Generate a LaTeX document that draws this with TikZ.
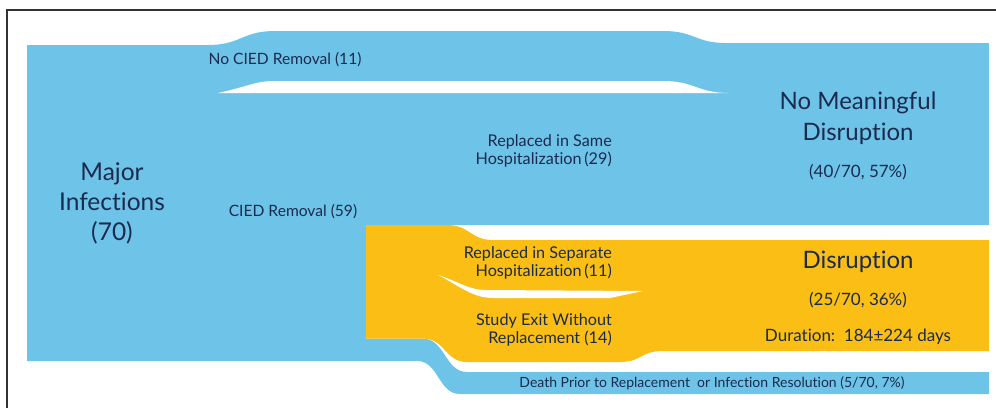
\documentclass[tikz,border=0pt]{standalone}
\usepackage{fontspec}
\setmainfont{Lato}[Ligatures=NoCommon]
\definecolor{fblue}{HTML}{6DC4E8}
\definecolor{forange}{HTML}{FBBE14}
\definecolor{ftext}{HTML}{1B2A4E}
\tikzset{
  lbl/.style={text=ftext, inner sep=0pt, align=center},
  small/.style={lbl, font=\fontsize{15.6}{18}\selectfont},
  smallr/.style={lbl, align=right, font=\fontsize{16.2}{17.5}\selectfont},
  big/.style={lbl, font=\fontsize{24.5}{30}\selectfont},
  mid/.style={lbl, font=\fontsize{17}{19}\selectfont},
}
\begin{document}
\begin{tikzpicture}[x=1pt,y=-1pt]
\useasboundingbox (0,0) rectangle (996,408);
% frame
\draw[line width=2pt, black!80] (7,408) -- (7,10) -- (996,10);
% blue flows
\fill[fblue] (27,45) -- (208,45) .. controls (241,45) and (242,31) .. (275,31)
  -- (663,31) .. controls (695,31) and (695,43) .. (726,43) -- (989,43) -- (989,225)
  -- (366,225) -- (366,338.6) -- (423,338.6) .. controls (445,338.6) and (445,372) .. (467,372)
  -- (989,372) -- (989,394) -- (460,394) .. controls (438,394) and (439,361) .. (417,361)
  -- (27,361) -- cycle;
% gap between No CIED and CIED removal
\fill[white] (218,93) .. controls (250,86) and (255,81) .. (275,81) -- (663,81)
  .. controls (695,81) and (697,93) .. (729,93) -- cycle;
% orange flows
\fill[forange] (366,225) -- (447,225) .. controls (470,225) and (470,240) .. (493,240)
  -- (989,240) -- (989,351) -- (663,351) .. controls (640,351) and (642,362) .. (620,362)
  -- (467,362) .. controls (445,362) and (445,338.6) .. (423,338.6) -- (366,338.6) -- cycle;
\fill[white] (438,275) .. controls (460,282) and (468,290) .. (487,290) -- (643,291)
  -- (610,298) -- (493,298) .. controls (472,298) and (458,285) .. (438,275) -- cycle;
% labels
\node[big] (major) at (112,203) {Major\\Infections\\(70)};
\node[small] (nocied) at (285,60) {No CIED Removal (11)};
\node[small] (cied) at (293,212) {CIED Removal (59)};
\node[smallr, anchor=east] (same) at (612,151) {Replaced in Same\\Hospitalization\,(29)};
\node[smallr, anchor=east] (sep) at (612,263) {Replaced in Separate\\Hospitalization\,(11)};
\node[smallr, anchor=east] (exit) at (612,330) {Study Exit Without\\Replacement (14)};
\node[big, font=\fontsize{24}{31}\selectfont] (nomd) at (858,118) {No Meaningful\\Disruption};
\node[mid] (nomdp) at (858,172) {(40/70, 57\%)};
\node[big, font=\fontsize{24}{30}\selectfont] (dis) at (858,262) {Disruption};
\node[mid] (disp) at (858,300) {(25/70, 36\%)};
\node[mid] (dur) at (858,337) {Duration:\ \ 184±224 days};
\node[lbl, font=\fontsize{14}{16}\selectfont] (death) at (712,383) {Death Prior to Replacement\ \ or Infection Resolution (5/70, 7\%)};
\end{tikzpicture}
\end{document}
